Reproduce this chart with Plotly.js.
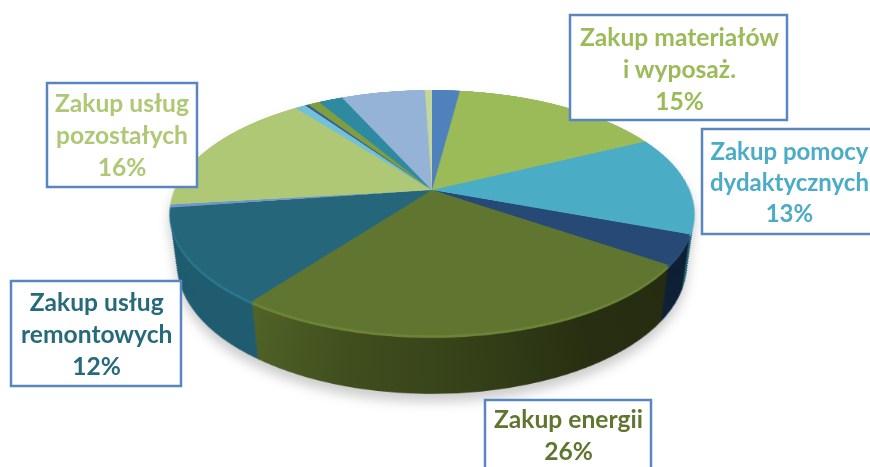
<!DOCTYPE html>
<html lang="pl">
<head>
<meta charset="utf-8">
<script src="https://cdn.plot.ly/plotly-3.0.1.min.js"></script>
<style>
html,body{margin:0;padding:0;width:870px;height:467px;overflow:hidden;background:#fff}
#wrap{position:absolute;left:0;top:0;width:870px;height:467px;overflow:hidden;filter:drop-shadow(0 8px 6px rgba(0,0,0,.2)) blur(.5px)}
#pie{position:absolute;left:152px;top:-90px;width:560px;height:640px;transform-origin:280px 280px;transform:perspective(1245px) rotateX(62.6deg)}
#labels{position:absolute;left:0;top:0;width:870px;height:467px}
</style>
</head>
<body>
<div id="wrap"><div id="pie"></div></div>
<div id="labels"></div>
<script>
// Slice shares in percent, clockwise from the top
const sliceNames = ['Wydatek 1','Zakup materiałów i wyposaż.','Zakup pomocy dydaktycznych','Wydatek 2','Zakup energii','Zakup usług remontowych','Wydatek 3','Zakup usług pozostałych','Wydatek 4','Wydatek 5','Wydatek 6','Wydatek 7','Wydatek 8','Wydatek 9'];
const sliceValues = [2.05,15.65,13,3.9,25.6,12.5,0.4,16.5,0.8,0.24,0.86,1.8,6.18,0.52];
const topColors  = ['#4f81bd','#9bbb59','#4bacc6','#264a75','#5f7530','#25667b','#6f97cc','#aec876','#72c1d8','#3a5d94','#7f9e3e','#2e8aa0','#95b3d7','#c3d69b'];
const rimColors  = ['#4f81bd','#9bbb59','#4bacc6','#2a5078','#6b8436','#2a778e','#6f97cc','#aec876','#72c1d8','#3a5d94','#7f9e3e','#2e8aa0','#95b3d7','#c3d69b'];
const wallColors = ['#2c4a70','#5c7035','#29687a','#0f2136','#38461a','#205d70','#3c5f8c','#66783f','#3d7283','#223857','#4c5f25','#1b5364','#586c85','#72805c'];
// Horizontal shading of the large wall slice (offset from centre, colour)
const oliveOffsets = [-190,-70,40,130,240];
const oliveShades  = ['#586d2c','#414f1e','#343f18','#272e11','#252b0f'];
const oliveIndex = 4;
// Label boxes
const labelLines = [
  ['Zakup materiałów','i wyposaż.','15%'],
  ['Zakup pomocy','dydaktycznych','13%'],
  ['Zakup energii','26%'],
  ['Zakup usług','remontowych','12%'],
  ['Zakup usług','pozostałych','16%']
];
const labelColors = ['#9bbb59','#4bacc6','#5f7530','#276a7c','#aec876'];
const labelSizes = [24.6,24,24.6,24.6,24.6];
const labelCenterX = [679,789.5,568,96,122];
const labelCenterY = [68,181,434.5,333,135];
const boxLeft   = [570,702,485,11,47];
const boxRight  = [787,885,651,181,197];
const boxTop    = [15,129,400,281,83];
const boxBottom = [120,234,482,386,187];

const W = 560, H = 640, CX = 280, CY = 280, R = 257.5;
const LAYERS = 54, SHIFT = 105, SHRINK = 0.9;

function pieTrace(colors, radius, cy){
  return {
    type:'pie', values:sliceValues, labels:sliceNames, sort:false, direction:'clockwise', rotation:0,
    textinfo:'none', hoverinfo:'skip', showlegend:false,
    marker:{colors:colors, line:{width:0}},
    domain:{x:[(CX-radius)/W,(CX+radius)/W], y:[1-(cy+radius)/H,1-(cy-radius)/H]}
  };
}
const traces = [];
for(let i=LAYERS;i>=1;i--){
  const t=i/LAYERS;
  traces.push(pieTrace(wallColors, R*(1-(1-SHRINK)*t), CY+SHIFT*t));
}
traces.push(pieTrace(rimColors, R, CY+4));
traces.push(pieTrace(topColors, R, CY));

const pieDiv=document.getElementById('pie');
Plotly.newPlot(pieDiv,traces,{width:W,height:H,margin:{l:0,r:0,t:0,b:0},paper_bgcolor:'rgba(0,0,0,0)',plot_bgcolor:'rgba(0,0,0,0)'},{displayModeBar:false,staticPlot:true}).then(()=>{
  const svg=pieDiv.querySelector('svg.main-svg');
  const ns='http://www.w3.org/2000/svg';
  const grad=document.createElementNS(ns,'linearGradient');
  const last=oliveOffsets.length-1;
  grad.setAttribute('id','oliveWall');
  grad.setAttribute('gradientUnits','userSpaceOnUse');
  grad.setAttribute('x1',CX+oliveOffsets[0]);grad.setAttribute('x2',CX+oliveOffsets[last]);
  grad.setAttribute('y1',0);grad.setAttribute('y2',0);
  oliveOffsets.forEach((o,k)=>{
    const s=document.createElementNS(ns,'stop');
    s.setAttribute('offset',(o-oliveOffsets[0])/(oliveOffsets[last]-oliveOffsets[0]));
    s.setAttribute('stop-color',oliveShades[k]);
    grad.appendChild(s);
  });
  svg.querySelector('defs').appendChild(grad);
  pieDiv.querySelectorAll('.pielayer .trace').forEach((g,idx)=>{
    if(idx>=LAYERS) return;
    const slices=g.querySelectorAll('.slice path.surface');
    if(slices[oliveIndex]) slices[oliveIndex].style.fill='url(#oliveWall)';
  });
});

const PW=870, PH=467;
const shapes=boxLeft.map((l,i)=>({
  type:'rect', xref:'paper', yref:'paper', layer:'above',
  x0:l/PW, x1:boxRight[i]/PW, y0:1-boxBottom[i]/PH, y1:1-boxTop[i]/PH,
  fillcolor:'#ffffff', line:{color:'#5a86bf', width:2.5}
}));
const annotations=labelLines.map((lines,i)=>({
  text:lines.join('<br>'), showarrow:false,
  xref:'paper', yref:'paper', x:labelCenterX[i]/PW, y:1-labelCenterY[i]/PH, xanchor:'center', yanchor:'middle', align:'center',
  font:{family:'Lato, sans-serif', size:labelSizes[i], color:labelColors[i], weight:700}
}));
Plotly.newPlot('labels',[],{
  width:PW,height:PH,margin:{l:0,r:0,t:0,b:0},paper_bgcolor:'rgba(0,0,0,0)',plot_bgcolor:'rgba(0,0,0,0)',
  xaxis:{visible:false},yaxis:{visible:false},shapes:shapes,annotations:annotations
},{displayModeBar:false,staticPlot:true});
</script>
</body>
</html>
